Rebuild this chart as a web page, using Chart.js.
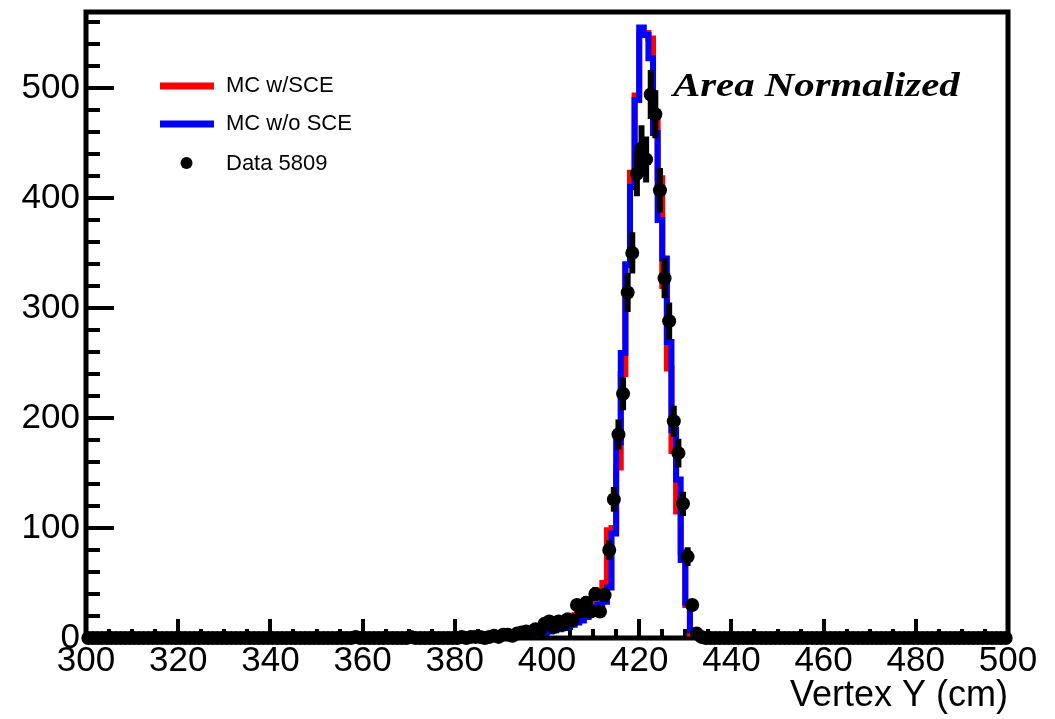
<!DOCTYPE html>
<html>
<head>
<meta charset="utf-8">
<script src="https://cdn.jsdelivr.net/npm/chart.js@4.4.1/dist/chart.umd.min.js"></script>
<style>
  html, body { margin: 0; padding: 0; background: #fff; }
  #wrap { width: 1055px; height: 719px; }
</style>
</head>
<body>
<div id="wrap"><canvas id="vertexChart" width="1055" height="719"></canvas></div>
<script>
// histogram binning: 200 bins of 1 cm from 300 to 500
const binStart = 300;
const binWidth = 1;

const xTicks = [300, 320, 340, 360, 380, 400, 420, 440, 460, 480, 500];
const yTicks = [0, 100, 200, 300, 400, 500];
const yMax = 569;

const seriesLabels = ['MC w/SCE', 'MC w/o SCE', 'Data 5809'];
const titleText = 'Area Normalized';
const xTitle = 'Vertex Y (cm)';

// data, one row = 20 bins (row start in the comment)
const dataValues = [
  0, 0, 0, 0, 0, 0, 0, 0, 0, 0, 0, 0, 0, 0, 0, 0, 0, 0, 0, 0,              // 300
  0, 0, 0, 0, 0, 0, 0, 0, 0, 0, 0, 0, 0, 0, 0, 0, 0, 0, 0, 0,              // 320
  0, 0, 0, 0, 0, 0, 0, 0, 0, 0, 0, 0, 0, 0, 0, 0, 0, 0, 1, 0,              // 340
  0, 0, 0, 0, 0, 0, 0, 0, 0, 0, 1, 0, 0, 0, 0, 0, 0, 0, 0, 0,              // 360
  0, 1, 0, 1, 1, 1, 0, 1, 2, 1, 3, 3, 2, 4, 5, 6, 5, 8, 7, 13,             // 380
  15, 10, 15, 12, 17, 16, 30, 24, 32, 24, 40, 24, 39, 80, 126, 185, 222, 314, 350, 422, // 400
  445, 435, 494, 476, 407, 327, 288, 197, 168, 122, 74, 30, 4, 1, 0, 0, 0, 0, 0, 0,    // 420
  0, 0, 0, 0, 0, 0, 0, 0, 0, 0, 0, 0, 0, 0, 0, 0, 0, 0, 0, 0,              // 440
  0, 0, 0, 0, 0, 0, 0, 0, 0, 0, 0, 0, 0, 0, 0, 0, 0, 0, 0, 0,              // 460
  0, 0, 0, 0, 0, 0, 0, 0, 0, 0, 0, 0, 0, 0, 0, 0, 0, 0, 0, 0               // 480
];

const dataErrors = [
  0, 0, 0, 0, 0, 0, 0, 0, 0, 0, 0, 0, 0, 0, 0, 0, 0, 0, 0, 0,
  0, 0, 0, 0, 0, 0, 0, 0, 0, 0, 0, 0, 0, 0, 0, 0, 0, 0, 0, 0,
  0, 0, 0, 0, 0, 0, 0, 0, 0, 0, 0, 0, 0, 0, 0, 0, 0, 0, 1, 0,
  0, 0, 0, 0, 0, 0, 0, 0, 0, 0, 1, 0, 0, 0, 0, 0, 0, 0, 0, 0,
  0, 1, 0, 1, 1, 1, 0, 1, 1.4, 1, 1.7, 1.7, 1.4, 2, 2.2, 2.4, 2.2, 2.8, 2.6, 3.6,
  3.9, 3.2, 3.9, 3.5, 4.1, 4, 5.5, 4.9, 5.7, 4.9, 6.3, 4.9, 6.2, 8.9, 11.2, 13.6, 14.9, 17.7, 18.7, 20.5,
  21.1, 20.9, 22.2, 21.8, 20.2, 18.1, 17, 14, 13, 11, 8.6, 5.5, 2, 1, 0, 0, 0, 0, 0, 0,
  0, 0, 0, 0, 0, 0, 0, 0, 0, 0, 0, 0, 0, 0, 0, 0, 0, 0, 0, 0,
  0, 0, 0, 0, 0, 0, 0, 0, 0, 0, 0, 0, 0, 0, 0, 0, 0, 0, 0, 0,
  0, 0, 0, 0, 0, 0, 0, 0, 0, 0, 0, 0, 0, 0, 0, 0, 0, 0, 0, 0
];

const mcWithSce = [
  0, 0, 0, 0, 0, 0, 0, 0, 0, 0, 0, 0, 0, 0, 0, 0, 0, 0, 0, 0,              // 300
  0, 0, 0, 0, 0, 0, 0, 0, 0, 0, 0, 0, 0, 0, 0, 0, 0, 0, 0, 0,              // 320
  0, 0, 0, 0, 0, 0, 0, 0, 0, 0, 0, 0, 0, 0, 0, 0, 0, 0, 0, 0,              // 340
  0, 0, 0, 0, 0, 0, 0, 0, 0, 0, 0, 0, 0, 0, 0, 0, 0, 0, 0, 0,              // 360
  0, 0, 0, 0, 0, 1, 0, 1, 1, 1, 1, 2, 2, 2, 3, 3, 4, 4, 5, 6,              // 380
  7, 8, 9, 10, 12, 15, 21, 20, 22, 26, 32, 38, 50, 98, 100, 155, 240, 340, 423, 493,  // 400
  548, 550, 545, 470, 418, 320, 245, 170, 115, 78, 30, 4, 0, 0, 0, 0, 0, 0, 0, 0,     // 420
  0, 0, 0, 0, 0, 0, 0, 0, 0, 0, 0, 0, 0, 0, 0, 0, 0, 0, 0, 0,              // 440
  0, 0, 0, 0, 0, 0, 0, 0, 0, 0, 0, 0, 0, 0, 0, 0, 0, 0, 0, 0,              // 460
  0, 0, 0, 0, 0, 0, 0, 0, 0, 0, 0, 0, 0, 0, 0, 0, 0, 0, 0, 0               // 480
];

const mcWithoutSce = [
  0, 0, 0, 0, 0, 0, 0, 0, 0, 0, 0, 0, 0, 0, 0, 0, 0, 0, 0, 0,              // 300
  0, 0, 0, 0, 0, 0, 0, 0, 0, 0, 0, 0, 0, 0, 0, 0, 0, 0, 0, 0,              // 320
  0, 0, 0, 0, 0, 0, 0, 0, 0, 0, 0, 0, 0, 0, 0, 0, 0, 0, 0, 0,              // 340
  0, 0, 0, 0, 0, 0, 0, 0, 0, 0, 0, 0, 0, 0, 0, 0, 0, 0, 0, 0,              // 360
  0, 0, 0, 0, 0, 0, 1, 0, 1, 1, 1, 1, 1, 2, 2, 3, 3, 4, 5, 5,              // 380
  6, 7, 8, 9, 10, 12, 14, 16, 19, 24, 28, 30, 33, 46, 95, 178, 259, 339, 410, 489,    // 400
  555, 548, 527, 459, 380, 345, 269, 189, 144, 71, 32, 7, 0, 0, 0, 0, 0, 0, 0, 0,     // 420
  0, 0, 0, 0, 0, 0, 0, 0, 0, 0, 0, 0, 0, 0, 0, 0, 0, 0, 0, 0,              // 440
  0, 0, 0, 0, 0, 0, 0, 0, 0, 0, 0, 0, 0, 0, 0, 0, 0, 0, 0, 0,              // 460
  0, 0, 0, 0, 0, 0, 0, 0, 0, 0, 0, 0, 0, 0, 0, 0, 0, 0, 0, 0               // 480
];

const sansFont = "'Liberation Sans', Arial, Helvetica, sans-serif";
const serifFont = "'Liberation Serif', 'Times New Roman', serif";

// step outline: one point per lower bin edge, plus the closing edge
function histPoints(values) {
  const pts = values.map((v, i) => ({ x: binStart + i * binWidth, y: v }));
  pts.push({ x: binStart + values.length * binWidth, y: values[values.length - 1] });
  return pts;
}

function centerPoints(values) {
  return values.map((v, i) => ({ x: binStart + (i + 0.5) * binWidth, y: v }));
}

// ROOT-like frame with inward ticks, error bars, legend and label
const rootStyle = {
  id: 'rootStyle',
  beforeDatasetsDraw(chart) {
    const { ctx, chartArea: a, scales } = chart;
    ctx.save();
    ctx.strokeStyle = '#000';
    ctx.lineWidth = 4;
    ctx.beginPath();
    for (let v = 0; v <= yMax; v += 20) {
      const y = Math.round(scales.y.getPixelForValue(v));
      const len = v % 100 === 0 ? 28 : 14;
      ctx.moveTo(a.left, y);
      ctx.lineTo(a.left + len, y);
    }
    for (let v = 300; v <= 500; v += 5) {
      const x = Math.round(scales.x.getPixelForValue(v));
      const len = v % 20 === 0 ? 19 : 9;
      ctx.moveTo(x, a.bottom);
      ctx.lineTo(x, a.bottom - len);
    }
    ctx.stroke();
    ctx.lineWidth = 5;
    ctx.strokeRect(a.left, a.top, a.right - a.left, a.bottom - a.top);
    ctx.restore();
  },
  afterDatasetDraw(chart, args) {
    if (args.index !== 1) return;
    const { ctx, scales } = chart;
    ctx.save();
    ctx.strokeStyle = '#000';
    ctx.lineWidth = 6;
    ctx.beginPath();
    dataValues.forEach((v, i) => {
      const e = dataErrors[i];
      if (!e) return;
      const x = scales.x.getPixelForValue(binStart + (i + 0.5) * binWidth);
      ctx.moveTo(x, scales.y.getPixelForValue(v - e));
      ctx.lineTo(x, scales.y.getPixelForValue(v + e));
    });
    ctx.stroke();
    ctx.restore();
  },
  afterDraw(chart) {
    const { ctx } = chart;
    const ds = chart.data.datasets;
    ctx.save();
    ctx.textBaseline = 'middle';
    ctx.fillStyle = '#000';
    ctx.font = '22px ' + sansFont;
    const rows = [86, 124, 164];
    ds.forEach((d, i) => {
      const y = rows[i];
      if (i < 2) {
        ctx.strokeStyle = d.borderColor;
        ctx.lineWidth = 7;
        ctx.beginPath();
        ctx.moveTo(160, y);
        ctx.lineTo(214, y);
        ctx.stroke();
      } else {
        ctx.beginPath();
        ctx.arc(186.5, y - 1, 6, 0, Math.PI * 2);
        ctx.fill();
      }
      ctx.fillText(d.label, 226, y);
    });
    // the original label is set in a wider face, so stretch it sideways
    ctx.font = 'italic bold 34px ' + serifFont;
    ctx.textBaseline = 'alphabetic';
    ctx.translate(673, 96);
    ctx.scale(1.2, 1);
    ctx.fillText(titleText, 0, 0);
    ctx.restore();
  }
};

const ctx = document.getElementById('vertexChart').getContext('2d');
new Chart(ctx, {
  type: 'line',
  data: {
    datasets: [
      {
        label: seriesLabels[0],
        data: histPoints(mcWithSce),
        borderColor: '#ff0000',
        borderWidth: 6,
        stepped: 'before',
        pointRadius: 0,
        fill: false,
        order: 2
      },
      {
        label: seriesLabels[1],
        data: histPoints(mcWithoutSce),
        borderColor: '#0000ff',
        borderWidth: 6,
        stepped: 'before',
        pointRadius: 0,
        fill: false,
        order: 1
      },
      {
        label: seriesLabels[2],
        data: centerPoints(dataValues),
        showLine: false,
        pointRadius: 7,
        pointBorderWidth: 0,
        pointBackgroundColor: '#000',
        borderColor: '#000',
        clip: false,
        order: 0
      }
    ]
  },
  options: {
    responsive: false,
    animation: false,
    devicePixelRatio: 1,
    layout: { padding: { top: 12, right: 47, bottom: 0, left: 0 } },
    plugins: {
      legend: { display: false },
      tooltip: { enabled: false }
    },
    scales: {
      x: {
        type: 'linear',
        min: 300,
        max: 500,
        afterBuildTicks: s => { s.ticks = xTicks.map(v => ({ value: v })); },
        afterFit: s => { s.height = 81; s.paddingLeft = 0; s.paddingRight = 0; },
        grid: { display: false, drawTicks: false },
        border: { display: false },
        ticks: { color: '#000', font: { family: sansFont, size: 35 }, padding: 2, maxRotation: 0, autoSkip: false },
        title: {
          display: true,
          text: xTitle,
          align: 'end',
          color: '#000',
          font: { family: sansFont, size: 36 },
          padding: { top: 0, bottom: 1 }
        }
      },
      y: {
        min: 0,
        max: yMax,
        afterBuildTicks: s => { s.ticks = yTicks.map(v => ({ value: v })); },
        afterFit: s => { s.width = 86; s.paddingTop = 0; s.paddingBottom = 0; },
        grid: { display: false, drawTicks: false },
        border: { display: false },
        ticks: { color: '#000', font: { family: sansFont, size: 35 }, padding: 6 }
      }
    }
  },
  plugins: [rootStyle]
});
</script>
</body>
</html>
